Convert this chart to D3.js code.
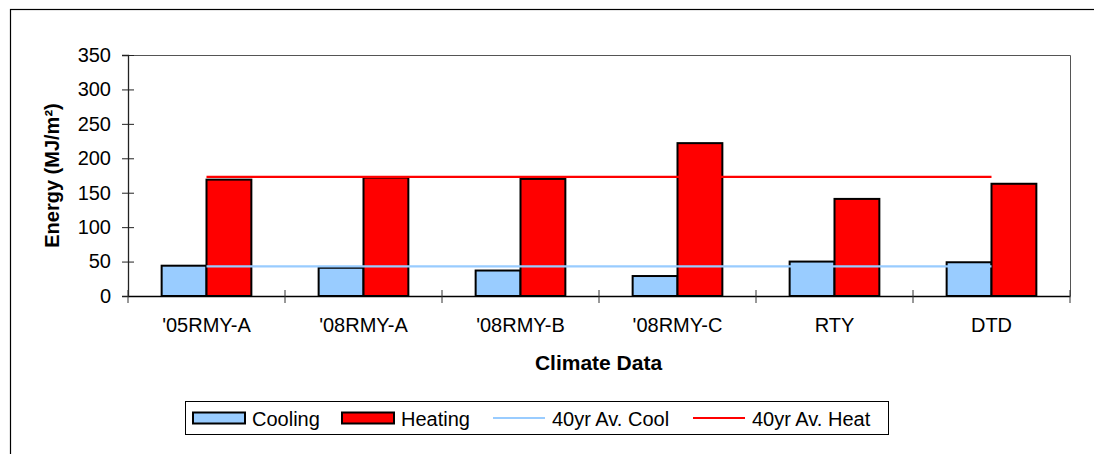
<!DOCTYPE html>
<html>
<head>
<meta charset="utf-8">
<script src="https://cdn.jsdelivr.net/npm/d3@7"></script>
<style>
  body { margin: 0; background: #fff; }
  svg text { font-family: Arial, "Liberation Sans", sans-serif; fill: #000; }
</style>
</head>
<body>
<div id="chart-area"></div>
<script>

// Categories and values
var categories = ["'05RMY-A", "'08RMY-A", "'08RMY-B", "'08RMY-C", "RTY", "DTD"];
var cooling = [44, 41, 37, 29, 50, 49];
var heating = [169, 172, 170, 222, 141, 163];
var avgCool = 43;
var avgHeat = 173;
var yTicks = [0, 50, 100, 150, 200, 250, 300, 350];

var seriesNames = ["Cooling", "Heating"];
var colors = { Cooling: "#99CCFF", Heating: "#FF0000" };

var width = 1094, height = 454;
var plot = { left: 128, top: 55, right: 1070, bottom: 296 };

var svg = d3.select("#chart-area").append("svg")
    .attr("width", width)
    .attr("height", height);

// outer chart border (runs off the right and bottom)
svg.append("rect")
    .attr("x", 10.5).attr("y", 9.5)
    .attr("width", 1200).attr("height", 600)
    .attr("fill", "none").attr("stroke", "#000").attr("stroke-width", 1.2);

// scales
var x = d3.scaleBand().domain(categories).range([plot.left, plot.right]);
var y = d3.scaleLinear().domain([0, 350]).range([plot.bottom, plot.top]);

// bar layout: two bars per group, 150% gap
var barW = x.bandwidth() / 3.5;
var xs = d3.scaleBand().domain(seriesNames)
    .range([x.bandwidth() / 2 - barW, x.bandwidth() / 2 + barW]);

// plot area frame (top and right)
svg.append("path")
    .attr("d", "M" + plot.left + "," + (plot.top + 0.5) + "H" + (plot.right + 0.5) + "V" + plot.bottom)
    .attr("fill", "none").attr("stroke", "#555").attr("stroke-width", 1);

// bars
var rows = categories.map(function(c, i) {
    return { cat: c, values: [
        { name: "Cooling", value: cooling[i] },
        { name: "Heating", value: heating[i] }
    ]};
});

var groups = svg.selectAll(".group").data(rows).enter().append("g")
    .attr("class", "group")
    .attr("transform", function(d) { return "translate(" + x(d.cat) + ",0)"; });

groups.selectAll("rect").data(function(d) { return d.values; }).enter().append("rect")
    .attr("x", function(d) { return xs(d.name); })
    .attr("y", function(d) { return y(d.value); })
    .attr("width", xs.bandwidth())
    .attr("height", function(d) { return y(0) - y(d.value); })
    .attr("fill", function(d) { return colors[d.name]; })
    .attr("stroke", "#000").attr("stroke-width", 2);

// average lines from first to last category centre
function avgLine(val, col) {
    svg.append("path")
        .datum([categories[0], categories[categories.length - 1]])
        .attr("d", d3.line()
            .x(function(d) { return x(d) + x.bandwidth() / 2; })
            .y(function() { return y(val); }))
        .attr("fill", "none").attr("stroke", col).attr("stroke-width", 2.2);
}
avgLine(avgCool, "#99CCFF");
avgLine(avgHeat, "#FF0000");

// y axis
var yAxis = d3.axisLeft(y).tickValues(yTicks).tickSize(6).tickPadding(6);
var yG = svg.append("g").attr("transform", "translate(" + plot.left + ",0)").call(yAxis);
yG.select(".domain").attr("stroke", "#222").attr("stroke-width", 1.3);
yG.selectAll(".tick line").attr("x2", -6).attr("x1", 6).attr("stroke", "#222");
yG.selectAll("text").attr("font-size", 20).attr("font-family", "Arial, 'Liberation Sans', sans-serif")
    .attr("x", -17);

// x axis
var xAxis = d3.axisBottom(x).tickSize(0).tickPadding(22);
var xG = svg.append("g").attr("transform", "translate(0," + plot.bottom + ")").call(xAxis);
xG.select(".domain").attr("stroke", "#000").attr("stroke-width", 1.3);
xG.selectAll("text").attr("font-size", 20).attr("font-family", "Arial, 'Liberation Sans', sans-serif");

// category separator ticks
var bounds = categories.map(function(c) { return x(c); }).concat([plot.right]);
svg.selectAll(".xsep").data(bounds).enter().append("line")
    .attr("class", "xsep")
    .attr("x1", function(d) { return d; }).attr("x2", function(d) { return d; })
    .attr("y1", plot.bottom - 6).attr("y2", plot.bottom + 7)
    .attr("stroke", "#333").attr("stroke-width", 1);

// axis titles
svg.append("text")
    .attr("x", 598.5).attr("y", 370)
    .attr("text-anchor", "middle").attr("font-size", 21).attr("font-weight", "bold")
    .text("Climate Data");

svg.append("text")
    .attr("transform", "translate(59," + ((plot.top + plot.bottom) / 2) + ") rotate(-90)")
    .attr("text-anchor", "middle").attr("font-size", 20).attr("font-weight", "bold")
    .text("Energy (MJ/m²)");

// legend
var legend = svg.append("g");
legend.append("rect")
    .attr("x", 185.5).attr("y", 401.5).attr("width", 703).attr("height", 33)
    .attr("fill", "#fff").attr("stroke", "#000").attr("stroke-width", 1);

var legendItems = [
    { label: "Cooling", type: "bar", color: colors.Cooling, x: 193 },
    { label: "Heating", type: "bar", color: colors.Heating, x: 342 },
    { label: "40yr Av. Cool", type: "line", color: "#99CCFF", x: 493 },
    { label: "40yr Av. Heat", type: "line", color: "#FF0000", x: 693 }
];

legendItems.forEach(function(d) {
    if (d.type === "bar") {
        legend.append("rect")
            .attr("x", d.x).attr("y", 412.5).attr("width", 52).attr("height", 11)
            .attr("fill", d.color).attr("stroke", "#000").attr("stroke-width", 2);
    } else {
        legend.append("line")
            .attr("x1", d.x).attr("x2", d.x + 52).attr("y1", 418).attr("y2", 418)
            .attr("stroke", d.color).attr("stroke-width", 2.2);
    }
    legend.append("text")
        .attr("x", d.x + 59).attr("y", 425.5)
        .attr("font-size", 20)
        .text(d.label);
});

</script>
</body>
</html>
